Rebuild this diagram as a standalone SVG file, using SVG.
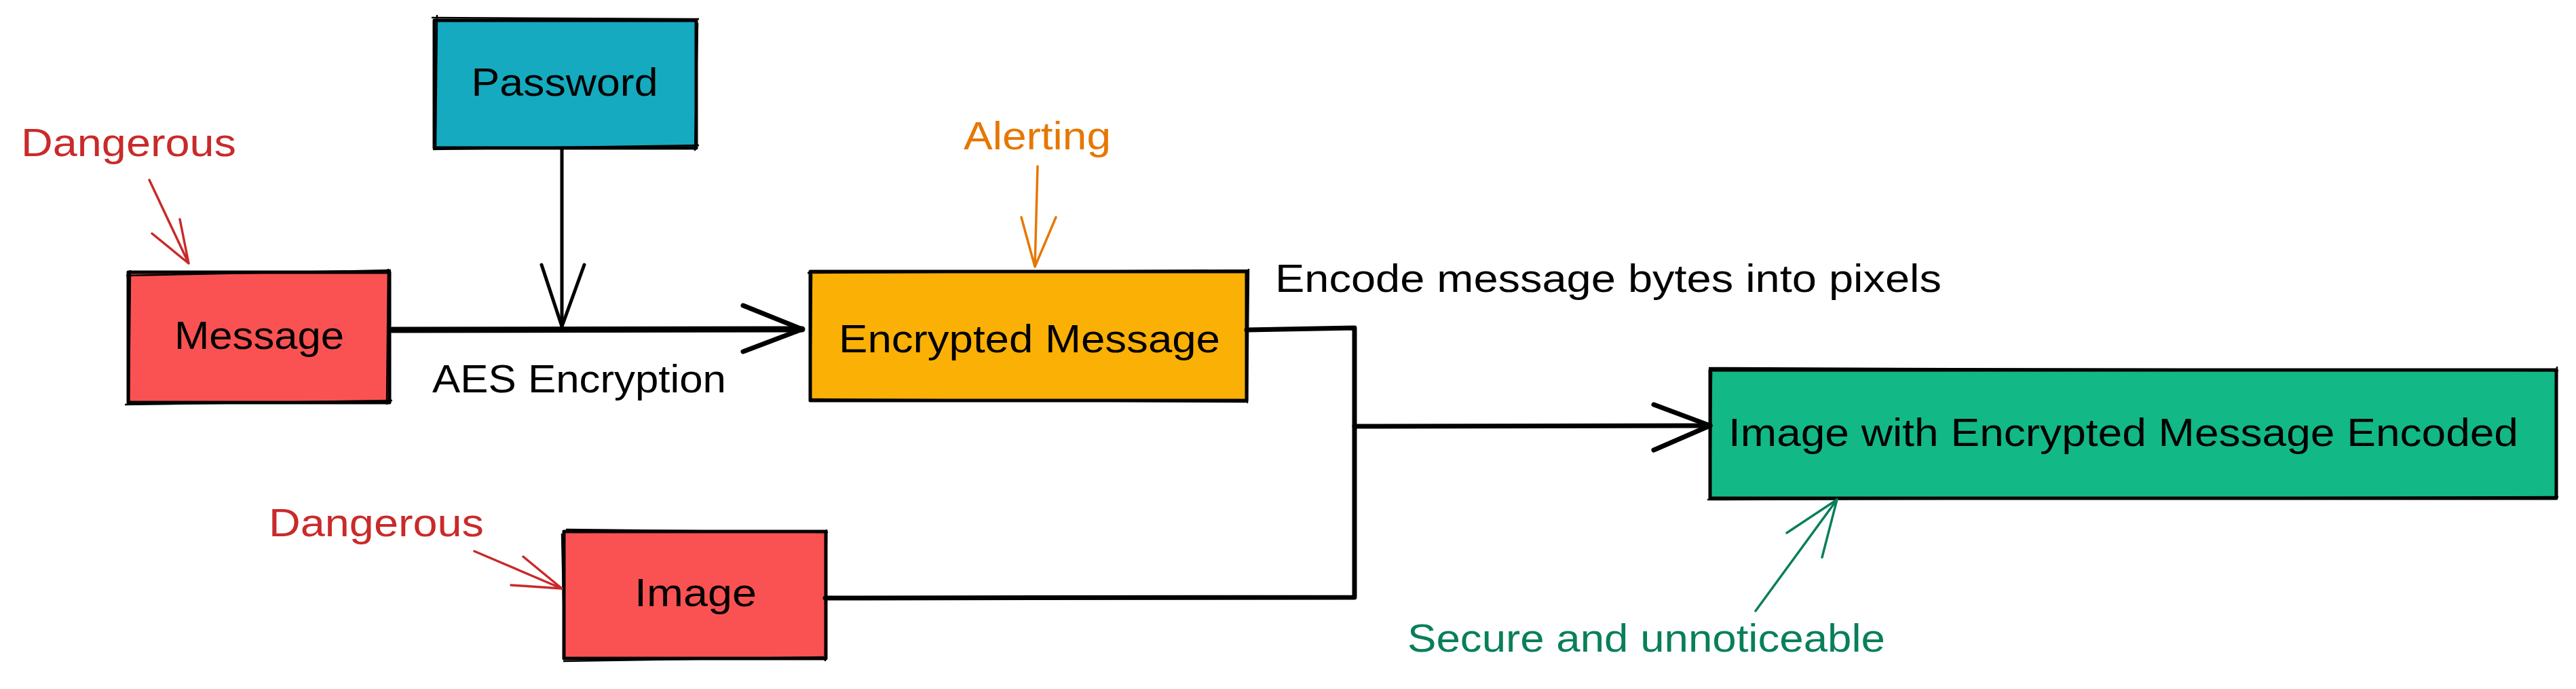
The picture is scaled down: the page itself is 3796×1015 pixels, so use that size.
<svg xmlns="http://www.w3.org/2000/svg" width="3796" height="1015" viewBox="0 0 3796 1015">
<style>
.box{stroke:#000;stroke-width:5;stroke-linejoin:round}
.sk{fill:none;stroke:#000;stroke-width:2.5}
.lbl{font-family:"Liberation Sans",Arial,sans-serif;font-size:58px;fill:#000}
.ann{font-family:"Liberation Sans",Arial,sans-serif;font-size:58px}
.con{fill:none;stroke:#000;stroke-linecap:round;stroke-linejoin:round}
.an{fill:none;stroke-width:3.5;stroke-linecap:round;stroke-linejoin:round}
</style>
<rect width="3796" height="1015" fill="#fff"/>

<g id="password">
<rect class="box" x="640" y="30" width="386" height="188" fill="#15aabf"/>
<path class="sk" d="M636 26 L1030 28 M1028 34 L1024 222 M1030 214 L638 220 M644 22 L642 216"/>
<text class="lbl" x="832" y="141" text-anchor="middle" textLength="275" lengthAdjust="spacingAndGlyphs">Password</text>
</g>

<g id="message">
<rect class="box" x="189" y="401" width="385" height="192" fill="#fa5252"/>
<path class="sk" d="M186 406 L576 398 M572 396 L570 596 M578 590 L184 596 M192 398 L190 592"/>
<text class="lbl" x="382" y="514" text-anchor="middle" textLength="250" lengthAdjust="spacingAndGlyphs">Message</text>
</g>

<g id="encrypted">
<rect class="box" x="1194" y="400" width="643" height="190" fill="#fab005"/>
<path class="sk" d="M1190 402 L1840 398 M1840 396 L1838 594 M1836 592 L1192 588 M1196 404 L1194 592"/>
<text class="lbl" x="1517" y="519" text-anchor="middle" textLength="562" lengthAdjust="spacingAndGlyphs">Encrypted Message</text>
</g>

<g id="image">
<rect class="box" x="831" y="783" width="386" height="187" fill="#fa5252"/>
<path class="sk" d="M834 780 L1220 784 M1218 780 L1216 974 M1214 968 L830 974 M828 786 L832 972"/>
<text class="lbl" x="1025" y="893" text-anchor="middle" textLength="180" lengthAdjust="spacingAndGlyphs">Image</text>
</g>

<g id="result">
<rect class="box" x="2520" y="545" width="1247" height="189" fill="#12b886"/>
<path class="sk" d="M2518 542 L3770 546 M3768 540 L3766 736 M3770 732 L2516 736 M2522 548 L2520 734"/>
<text class="lbl" x="3129" y="657" text-anchor="middle" textLength="1164" lengthAdjust="spacingAndGlyphs">Image with Encrypted Message Encoded</text>
</g>

<g id="connectors">
<path class="con" stroke-width="9" d="M578 486 L1182 485"/>
<path class="con" stroke-width="7" d="M1095 450 L1182 485 L1095 518"/>
<path class="con" stroke-width="5" d="M828 220 L828 481"/>
<path class="con" stroke-width="5" d="M798 390 L828 481 L861 390"/>
<path class="con" stroke-width="7" d="M1837 486 L1996 483 L1996 880 L1216 881"/>
<path class="con" stroke-width="7" d="M1996 628 L2520 627"/>
<path class="con" stroke-width="7" d="M2437 596 L2520 627 L2437 663"/>
</g>

<g id="annotations">
<text class="ann" fill="#c92a2a" x="31" y="230" textLength="317" lengthAdjust="spacingAndGlyphs">Dangerous</text>
<path class="an" stroke="#c92a2a" d="M220 265 L278 388 M224 344 L278 388 L265 323"/>
<text class="ann" fill="#c92a2a" x="396" y="790" textLength="317" lengthAdjust="spacingAndGlyphs">Dangerous</text>
<path class="an" stroke="#c92a2a" d="M699 812 L828 867 M771 820 L828 867 L753 862"/>
<text class="ann" fill="#e67700" x="1420" y="220" textLength="217" lengthAdjust="spacingAndGlyphs">Alerting</text>
<path class="an" stroke="#e67700" d="M1529 245 L1525 393 M1505 320 L1525 393 L1556 320"/>
<text class="ann" fill="#000" x="1879" y="430" textLength="982" lengthAdjust="spacingAndGlyphs">Encode message bytes into pixels</text>
<text class="ann" fill="#000" x="637" y="578" textLength="433" lengthAdjust="spacingAndGlyphs">AES Encryption</text>
<text class="ann" fill="#087f5b" x="2074" y="960" textLength="704" lengthAdjust="spacingAndGlyphs">Secure and unnoticeable</text>
<path class="an" stroke="#087f5b" d="M2587 900 L2707 736 M2633 785 L2707 736 L2685 821"/>
</g>
</svg>
